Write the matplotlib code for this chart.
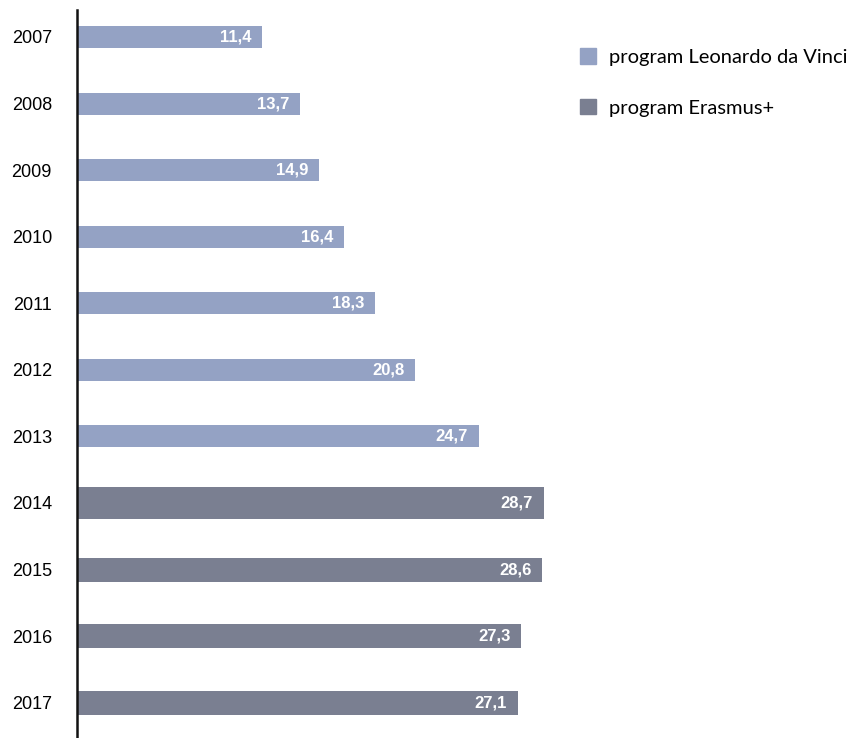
import matplotlib
matplotlib.use("Agg")
import matplotlib.pyplot as plt
from matplotlib.patches import Patch

years = ["2007", "2008", "2009", "2010", "2011", "2012", "2013",
         "2014", "2015", "2016", "2017"]
values = [11.4, 13.7, 14.9, 16.4, 18.3, 20.8, 24.7,
          28.7, 28.6, 27.3, 27.1]
programs = ["ldv", "ldv", "ldv", "ldv", "ldv", "ldv", "ldv",
            "erasmus", "erasmus", "erasmus", "erasmus"]
value_labels = ["11,4", "13,7", "14,9", "16,4", "18,3", "20,8", "24,7",
                "28,7", "28,6", "27,3", "27,1"]
legend_names = {"ldv": "program Leonardo da Vinci", "erasmus": "program Erasmus+"}

COLORS = {"ldv": "#94a2c4", "erasmus": "#7a7f91"}
HEIGHTS = {"ldv": 0.33, "erasmus": 0.36}

W, H = 853, 738
fig = plt.figure(figsize=(W / 100, H / 100), dpi=100)
ax = fig.add_axes([77 / W, 0, (W - 77) / W, 728 / H])

for i, (v, p) in enumerate(zip(values, programs)):
    h = 0.47 if years[i] == "2014" else HEIGHTS[p]
    ax.barh(i, v, height=h, color=COLORS[p])
    ax.text(v - 0.65, i, value_labels[i], ha="right", va="center",
            color="white", fontsize=12, fontweight="bold",
            family="Liberation Sans")

ax.set_ylim(10.53, -0.405)
ax.set_xlim(0, 28.7 * (W - 78) / 466)
ax.set_yticks(range(len(years)))
ax.set_yticklabels(years, fontsize=13, family="Liberation Sans")
ax.tick_params(axis="y", length=0, pad=18)
ax.set_xticks([])
for s in ["top", "right", "bottom"]:
    ax.spines[s].set_visible(False)
ax.spines["left"].set_linewidth(1.8)
ax.spines["left"].set_color("#111111")

handles = [Patch(color=COLORS[k], label=legend_names[k]) for k in ["ldv", "erasmus"]]
fig.legend(handles=handles, loc="upper left", bbox_to_anchor=(562 / W, 1 - 30 / H),
           frameon=False, prop={"family": "Lato", "size": 14.5},
           handlelength=0.8, handleheight=0.8, handletextpad=0.65,
           labelspacing=1.65)

fig.savefig("out.png", dpi=100)
